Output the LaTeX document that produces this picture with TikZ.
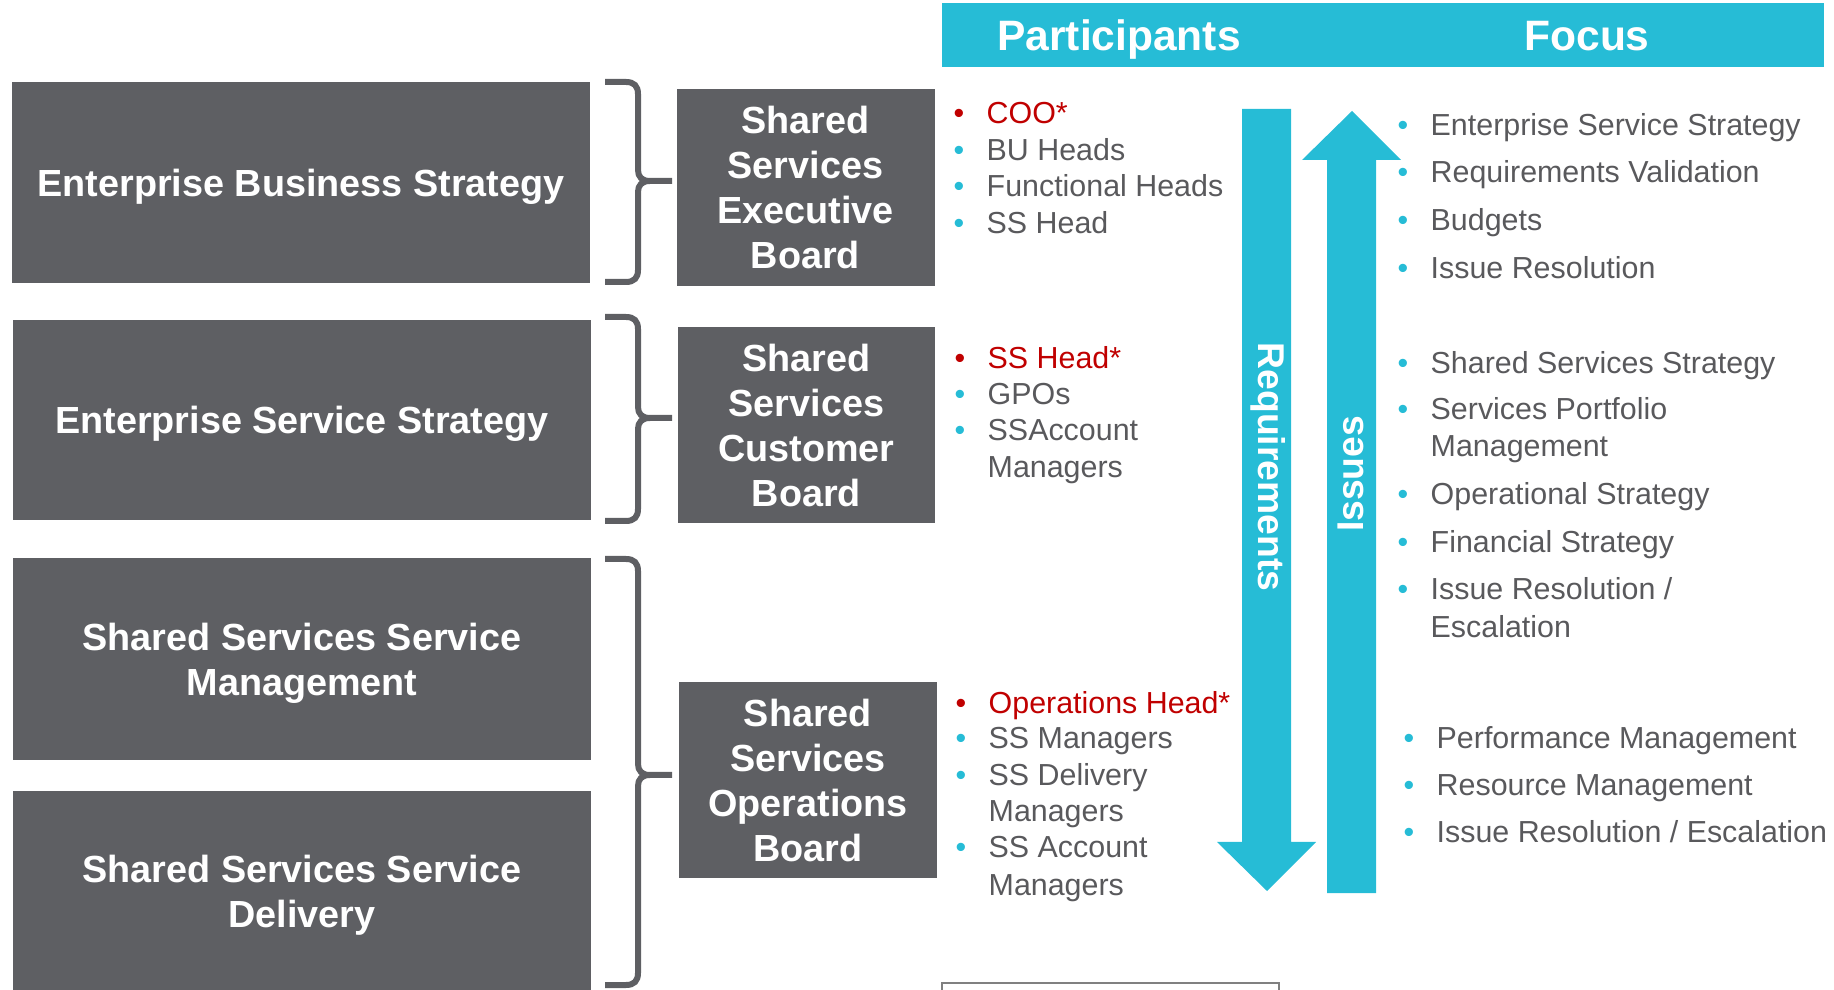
\documentclass[tikz,border=0pt]{standalone}
\usepackage{fontspec}
\setmainfont{Liberation Sans}
\usepackage{xcolor}
\usepackage{tikz}

\definecolor{boxgray}{RGB}{94,95,99}
\definecolor{barcyan}{RGB}{38,188,214}
\definecolor{txtgray}{RGB}{89,89,92}
\definecolor{leadred}{RGB}{192,0,0}
\definecolor{framegray}{RGB}{128,128,128}

\newcommand{\cbul}{\llap{\textcolor{barcyan}{\textbullet}\hspace{2.25mm}}}
\newcommand{\rbul}{\llap{\textcolor{leadred}{\textbullet}\hspace{2.25mm}}}
% top, tip, bottom of a group brace
\newcommand{\grpbr}[3]{%
\draw[grpbrace](605,#1)--(626,#1) .. controls (634,#1) and (638,{#1+4}) .. (638,{#1+12})
 --(638,{#2-11}) .. controls (638,{#2-4}) and (642,#2) .. (650,#2)--(672,#2)
 (650,#2) .. controls (642,#2) and (638,{#2+4}) .. (638,{#2+11})
 --(638,{#3-12}) .. controls (638,{#3-4}) and (634,#3) .. (626,#3)--(605,#3);}

\begin{document}
\begin{tikzpicture}[x=0.1mm,y=-0.1mm,
layerbox/.style={fill=boxgray,text=white,font=\fontsize{10.75}{12.8}\selectfont\bfseries,align=center,inner sep=0pt,text depth=0pt,minimum width=57.8mm},
boardbox/.style={layerbox,minimum width=25.8mm,minimum height=19.6mm},
hdrtext/.style={text=white,font=\fontsize{12.1}{14}\selectfont\bfseries,anchor=base,inner sep=0pt},
partitem/.style={text=txtgray,font=\fontsize{8.65}{10.4}\selectfont,anchor=base west,inner sep=0pt},
leaditem/.style={partitem,text=leadred},
flowarrow/.style={fill=barcyan},
flowlabel/.style={text=white,font=\fontsize{10.6}{12}\selectfont\bfseries,inner sep=0pt},
grpbrace/.style={draw=boxgray,line width=0.6mm}]
\useasboundingbox (0,0) rectangle (1834,990);

% header
\node[fill=barcyan,minimum width=88.2mm,minimum height=6.4mm,inner sep=0pt](hdrbar) at (1383,35){};
\node[hdrtext](hpart) at (1119,51){Participants};
\node[hdrtext](hfocus) at (1587,51){Focus};

% layers
\node[layerbox,minimum height=20.1mm](ebs) at (301,182.5){Enterprise Business Strategy};
\node[layerbox,minimum height=20mm](ess) at (302,420){Enterprise Service Strategy};
\node[layerbox,minimum height=20.2mm](ssm) at (302,659){Shared Services Service\\Management};
\node[layerbox,minimum height=20mm](ssd) at (302,891){Shared Services Service\\Delivery};

% boards
\node[boardbox,minimum height=19.7mm](exb) at (805.5,187.5){Shared\\Services\\Executive\\Board};
\node[boardbox,minimum width=25.7mm](cub) at (806.5,425){Shared\\Services\\Customer\\Board};
\node[boardbox](opb) at (808,780){Shared\\Services\\Operations\\Board};

% braces
\grpbr{82}{181}{282}
\grpbr{317}{418}{521}
\grpbr{559}{775}{985}

% participants
\node[leaditem](coo) at (986,124){\rbul COO*};
\node[partitem](buh) at (986,161){\cbul BU Heads};
\node[partitem](fnh) at (986,197){\cbul Functional Heads};
\node[partitem](ssh) at (986,234){\cbul SS Head};

\node[leaditem](ssh2) at (987,369){\rbul SS Head*};
\node[partitem](gpo) at (987,405){\cbul GPOs};
\node[partitem](acm) at (987,441){\cbul SSAccount};
\node[partitem](acm2) at (987,478){Managers};

\node[leaditem](oph) at (988,714){\rbul Operations Head*};
\node[partitem](ssmg) at (988,749){\cbul SS Managers};
\node[partitem](sdm) at (988,786){\cbul SS Delivery};
\node[partitem](sdm2) at (988,822){Managers};
\node[partitem](sam) at (988,858){\cbul SS Account};
\node[partitem](sam2) at (988,895){Managers};

% flow arrows
\fill[flowarrow](1242,109)--(1291,109)--(1291,842)--(1316,842)--(1267,891)--(1217,842)--(1242,842)--cycle;
\fill[flowarrow](1327,893)--(1376,893)--(1376,160)--(1401,160)--(1352,111)--(1302,160)--(1327,160)--cycle;
\node[flowlabel,rotate=-90](reqlbl) at (1268,467){Requirements};
\node[flowlabel,rotate=90](isslbl) at (1351,474){Issues};

% focus
\node[partitem](fes) at (1430,136){\cbul Enterprise Service Strategy};
\node[partitem](frv) at (1430,183){\cbul Requirements Validation};
\node[partitem](fbu) at (1430,231){\cbul Budgets};
\node[partitem](fir) at (1430,279){\cbul Issue Resolution};

\node[partitem](fss) at (1430,374){\cbul Shared Services Strategy};
\node[partitem](fsp) at (1430,420){\cbul Services Portfolio};
\node[partitem](fsp2) at (1430,457){Management};
\node[partitem](fos) at (1430,505){\cbul Operational Strategy};
\node[partitem](ffs) at (1430,553){\cbul Financial Strategy};
\node[partitem](fie) at (1430,600){\cbul Issue Resolution /};
\node[partitem](fie2) at (1430,638){Escalation};

\node[partitem](fpm) at (1436,748){\cbul Performance Management};
\node[partitem](frm) at (1436,795){\cbul Resource Management};
\node[partitem](fre) at (1436,842){\cbul Issue Resolution / Escalation};

% frame cut at the bottom
\draw[framegray,line width=0.2mm](942,983) rectangle (1279,1020);
\end{tikzpicture}
\end{document}
